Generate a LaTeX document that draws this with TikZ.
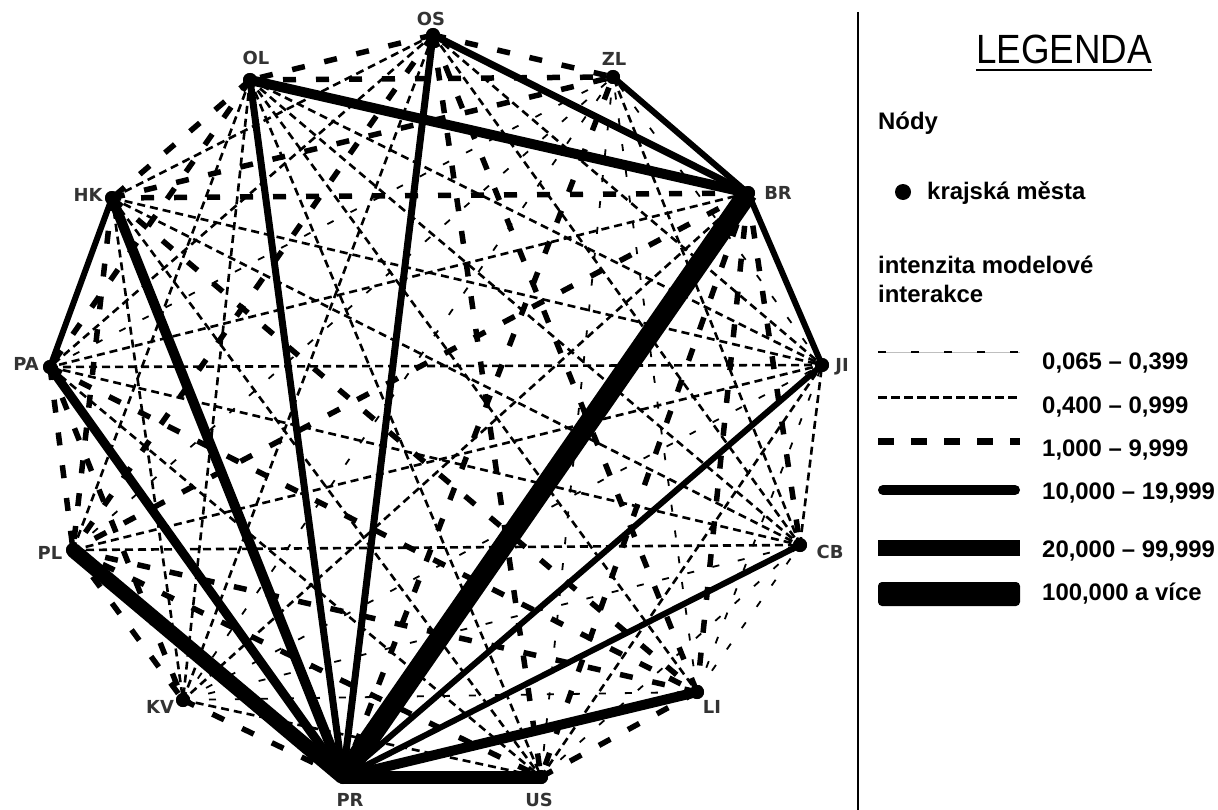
\documentclass[tikz,border=0pt]{standalone}
\usepackage{fontspec}
\setmainfont{Liberation Sans}
\newfontfamily\citylabfont{DejaVu Sans}
\begin{document}
\begin{tikzpicture}[x=1bp,y=-1bp,
  city/.style={circle,fill=black,inner sep=0pt,minimum size=14bp},
  citylab/.style={font=\citylabfont\bfseries\fontsize{18}{18}\selectfont,text=black!80,inner sep=0pt},
  weakA/.style={line width=1.8bp,dash pattern=on 7bp off 19bp},
  weakB/.style={line width=2.6bp,dash pattern=on 8bp off 5bp},
  midC/.style={line width=5.5bp,dash pattern=on 13bp off 20bp},
  flow/.style={line width=#1,line cap=butt},
  legtext/.style={font=\bfseries\fontsize{24}{24}\selectfont,anchor=base west,inner sep=0pt},
]
\useasboundingbox (0,0) rectangle (1218,810);

% regional cities
\node[city] (OS) at (433,35) {};
\node[city] (ZL) at (613,77) {};
\node[city] (BR) at (748,193) {};
\node[city] (JI) at (822,365) {};
\node[city] (CB) at (800,545) {};
\node[city] (LI) at (697,692) {};
\node[city] (US) at (541,777) {};
\node[city] (PR) at (343,777) {};
\node[city] (KV) at (183,700) {};
\node[city] (PL) at (73,550) {};
\node[city] (PA) at (50,367) {};
\node[city] (HK) at (112,198) {};
\node[city] (OL) at (250,80) {};

% weakest interactions
\foreach \a/\b in {KV/LI,KV/CB,KV/JI,KV/ZL,LI/CB,LI/JI,LI/ZL,JI/ZL,PA/ZL,PL/ZL,US/ZL,US/CB}
  \draw[weakA] (\a.center) -- (\b.center);

% 0,400 - 0,999
\foreach \a/\b in {BR/PA,BR/KV,OS/HK,OS/PA,OS/CB,OS/JI,OS/KV,OL/PL,OL/KV,OL/US,OL/LI,OL/CB,OL/JI,
  HK/KV,HK/US,HK/CB,HK/JI,PA/US,PA/CB,PA/JI,PL/CB,PL/JI,KV/US,US/JI,CB/JI,CB/ZL}
  \draw[weakB] (\a.center) -- (\b.center);

% 1,000 - 9,999
\foreach \a/\b in {PR/KV,PR/ZL,BR/CB,BR/LI,BR/HK,BR/US,BR/PL,OS/OL,OS/ZL,OS/US,OS/LI,OS/PL,
  OL/HK,OL/PA,OL/ZL,HK/PL,HK/LI,HK/ZL,PA/PL,PA/KV,PA/LI,PL/KV,PL/LI,PL/US,US/LI}
  \draw[midC] (\a.center) -- (\b.center);

% strong interactions
\foreach \a/\b/\w in {PR/OL/7bp,PR/OS/7bp,BR/OS/7bp,PR/JI/6bp,PR/CB/6bp,BR/ZL/6bp,BR/JI/6bp,
  HK/PA/6bp,PR/PA/9bp,PR/LI/10bp,PR/HK/10bp,BR/OL/10bp,PR/US/13bp,PR/PL/15bp,PR/BR/20bp}
  \draw[flow=\w] (\a.center) -- (\b.center);

% dots on top
\foreach \c in {OS,ZL,BR,JI,CB,LI,US,PR,KV,PL,PA,HK,OL}
  \fill (\c) circle (7bp);

% city labels
\node[citylab] (lOS) at (431,19) {OS};
\node[citylab] (lOL) at (256,58) {OL};
\node[citylab] (lZL) at (614,59) {ZL};
\node[citylab] (lBR) at (778,193) {BR};
\node[citylab] (lHK) at (88,195) {HK};
\node[citylab] (lJI) at (842,367) {JI};
\node[citylab] (lPA) at (26,364) {PA};
\node[citylab] (lCB) at (830,552) {CB};
\node[citylab] (lPL) at (50,553) {PL};
\node[citylab] (lKV) at (160,707) {KV};
\node[citylab] (lLI) at (712,707) {LI};
\node[citylab] (lUS) at (539,800) {US};
\node[citylab] (lPR) at (350,800) {PR};

% legend
\draw[line width=2bp] (858,12) -- (858,810);
\node[anchor=base,inner sep=0pt,font=\fontsize{41}{41}\selectfont] (title) at (1064,64) {\scalebox{0.9}[1]{LEGENDA}};
\draw[line width=2.5bp] ([yshift=-6bp]title.base west) -- ([yshift=-6bp]title.base east);

\node[legtext] (nody) at (878,129) {Nódy};
\node[city,minimum size=16bp] (dot) at (903,192) {};
\node[legtext] (kraj) at (927,199) {krajská města};
\node[legtext] (intA) at (878,273) {intenzita modelové};
\node[legtext] (intB) at (878,302) {interakce};

\draw[black!25,line width=0.6bp] (878,352) -- (1020,352);
\draw[line width=2.5bp,dash pattern=on 8bp off 25bp] (878,352) -- (1020,352);
\draw[line width=3bp,dash pattern=on 9bp off 4bp] (878,397) -- (1020,397);
\draw[line width=7bp,dash pattern=on 16bp off 17bp] (878,441) -- (1020,441);
\draw[line width=10bp,line cap=round] (883,490) -- (1015,490);
\fill (878,540) rectangle (1020,556);
\fill[rounded corners=4bp] (878,582) rectangle (1020,606);

\node[legtext] (r1) at (1042,369) {0,065 – 0,399};
\node[legtext] (r2) at (1042,413) {0,400 – 0,999};
\node[legtext] (r3) at (1042,456) {1,000 – 9,999};
\node[legtext] (r4) at (1042,499) {10,000 – 19,999};
\node[legtext] (r5) at (1042,557) {20,000 – 99,999};
\node[legtext] (r6) at (1042,600) {100,000 a více};
\end{tikzpicture}
\end{document}
